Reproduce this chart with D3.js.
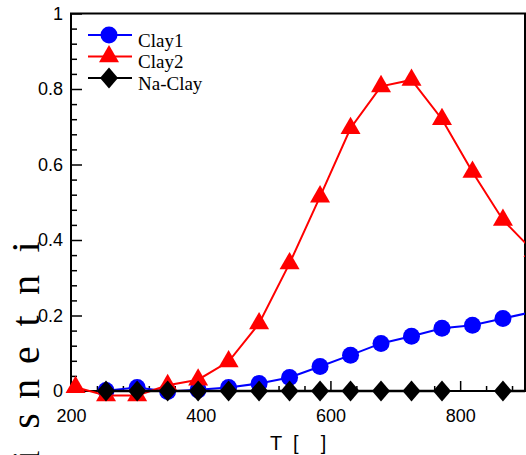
<html>
	<head>
	<title>Clay intensity vs T</title>
	<script src="https://d3js.org/d3.v7.min.js" charset="utf-8"></script>
	<style>
		body { margin: 0; background: white; }
		.tick text { font-family: "Liberation Sans", Arial, sans-serif; font-size: 18px; fill: black; }
	</style>
	</head>

	<body>
		<div id="svg"></div>

		<script type="text/javascript">
/* temperatures of the samples */
var temps = [207, 254, 302, 349, 396, 443, 490, 537, 584, 631, 678, 725, 772, 819, 866, 913];

/* series values, null where no point was drawn */
var clay1  = [null, 0.001, 0.009, -0.001, 0.003, 0.009, 0.020, 0.036, 0.065, 0.095, 0.126, 0.145, 0.166, 0.174, 0.192, 0.210];
var clay2  = [0.010, -0.012, -0.012, 0.015, 0.030, 0.078, 0.179, 0.338, 0.515, 0.696, 0.807, 0.824, 0.720, 0.580, 0.453, 0.370];
var naClay = [null, 0.000, 0.000, 0.000, 0.000, 0.000, 0.000, 0.000, 0.000, 0.000, 0.000, 0.000, 0.000, null, 0.000, 0.000];

var seriesNames = ["Clay1", "Clay2", "Na-Clay"];
var seriesColors = ["#0000ff", "#ff0000", "#000000"];
var seriesMarkers = ["circle", "triangle", "diamond"];

var xTicks = [200, 400, 600, 800];
var yTicks = [0, 0.2, 0.4, 0.6, 0.8, 1];

var xLabel = "T  [    ]";
var yLabel = "ytisnetni";

var box = { "left": 71, "right": 525, "top": 13.5, "bottom": 391 };

var x = d3.scaleLinear().domain([200, 900]).range([box.left, box.right]);
var y = d3.scaleLinear().domain([0, 1]).range([box.bottom, box.top]);

var svg = d3.select("#svg").append("svg")
			.attr("width", 526)
			.attr("height", 455);

svg.append("clipPath").attr("id", "plotclip")
	.append("rect")
	.attr("x", box.left - 12).attr("y", box.top)
	.attr("width", box.right - box.left + 12).attr("height", box.bottom - box.top + 20);

/* bottom axis, ticks inside */
svg.append("g")
	.attr("transform", "translate(0," + box.bottom + ")")
	.call(d3.axisBottom(x).tickValues(d3.range(240, 900, 40).filter(function(v) { return v % 200 !== 0; })).tickSize(-5).tickFormat(""))
	.call(function(g) { g.select(".domain").remove(); });
svg.append("g")
	.attr("transform", "translate(0," + box.bottom + ")")
	.call(d3.axisBottom(x).tickValues(xTicks).tickSize(-10).tickPadding(18).tickFormat(d3.format("d")))
	.call(function(g) { g.select(".domain").remove(); });

/* left axis */
svg.append("g")
	.attr("transform", "translate(" + box.left + ",0)")
	.call(d3.axisLeft(y).tickValues(d3.range(0, 1.001, 0.04).filter(function(v) { return Math.round(v * 100) % 20 !== 0; })).tickSize(-6).tickFormat(""))
	.call(function(g) { g.select(".domain").remove(); });
svg.append("g")
	.attr("transform", "translate(" + box.left + ",0)")
	.call(d3.axisLeft(y).tickValues(yTicks).tickSize(-11).tickPadding(8).tickFormat(function(d) { return d3.format("")(+d.toFixed(1)); }))
	.call(function(g) { g.select(".domain").remove(); });

svg.selectAll(".tick line").style("stroke", "black").style("stroke-width", 1.5);

/* frame */
svg.append("rect")
	.attr("x", box.left).attr("y", box.top)
	.attr("width", box.right - box.left).attr("height", box.bottom - box.top)
	.style("fill", "none").style("stroke", "black").style("stroke-width", 2);

function markerPath(kind) {
	if (kind === "circle") return d3.symbol().type(d3.symbolCircle).size(Math.PI * 8.5 * 8.5)();
	if (kind === "triangle") return "M0,-11.5L10,5.8L-10,5.8Z";
	return "M0,-10.5L9,0L0,10.5L-9,0Z";
}

var allSeries = [clay1, clay2, naClay];

var line = d3.line()
			.defined(function(d) { return d.v !== null; })
			.x(function(d) { return x(d.t); })
			.y(function(d) { return y(d.v); });

var plot = svg.append("g").attr("clip-path", "url(#plotclip)");

allSeries.forEach(function(vals, i) {
	var pts = temps.map(function(t, j) { return { "t": t, "v": vals[j] }; });
	plot.append("path")
		.datum(pts)
		.attr("d", line)
		.style("fill", "none")
		.style("stroke", seriesColors[i])
		.style("stroke-width", i === 2 ? 2.5 : 2);
	plot.selectAll(".m" + i)
		.data(pts.filter(function(d) { return d.v !== null; }))
		.enter()
		.append("path")
		.attr("class", "m" + i)
		.attr("transform", function(d) { return "translate(" + x(d.t) + "," + y(d.v) + ")"; })
		.attr("d", markerPath(seriesMarkers[i]))
		.style("fill", seriesColors[i]);
});

/* legend */
var legend = svg.selectAll(".legend")
			.data(seriesNames)
			.enter()
			.append("g")
			.attr("class", "legend")
			.attr("transform", function(d, i) { return "translate(88," + (35 + i * 21.5) + ")"; });

legend.append("line")
	.attr("x1", 0).attr("x2", 44)
	.style("stroke", function(d, i) { return seriesColors[i]; })
	.style("stroke-width", 2);
legend.append("path")
	.attr("transform", "translate(21,0)")
	.attr("d", function(d, i) { return markerPath(seriesMarkers[i]); })
	.style("fill", function(d, i) { return seriesColors[i]; });
legend.append("text")
	.attr("x", 50)
	.attr("y", 11.5)
	.style("font-family", "'Liberation Serif', 'Times New Roman', serif")
	.style("font-size", "19px")
	.text(function(d) { return d; });

/* axis titles */
svg.append("text")
	.attr("x", 270)
	.attr("y", 450)
	.style("font-family", "'Liberation Sans', Arial, sans-serif")
	.style("font-size", "20px")
	.style("white-space", "pre")
	.text(xLabel);

svg.append("text")
	.attr("transform", "translate(39,0) rotate(-90)")
	.attr("x", "-523 -490 -456 -421 -389 -355 -321 -285 -247")
	.attr("text-anchor", "middle")
	.style("font-family", "'Liberation Serif', 'Times New Roman', serif")
	.style("font-size", "40px")
	.text(yLabel);
		</script>
	</body>
</html>
